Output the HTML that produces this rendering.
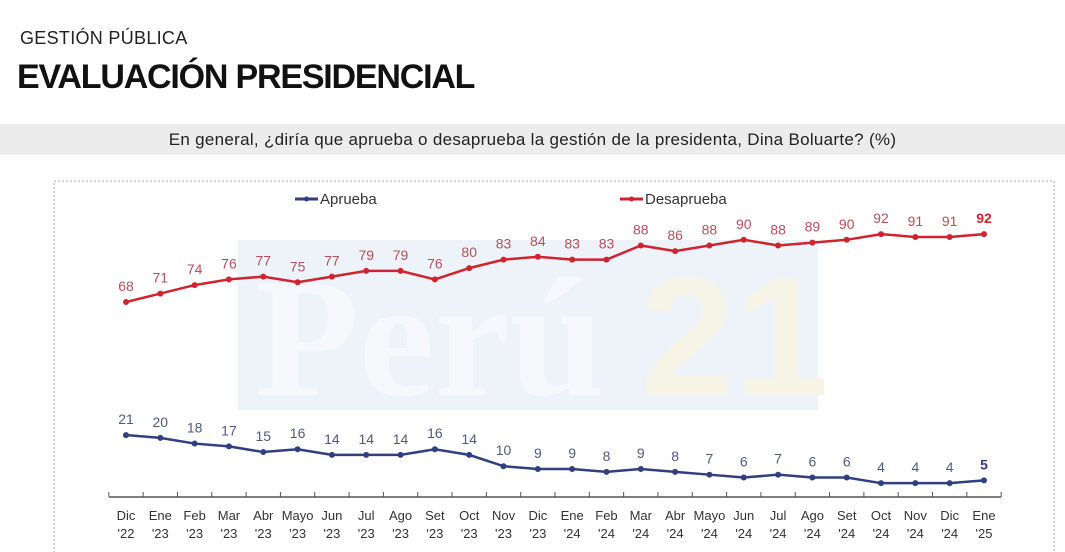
<!DOCTYPE html>
<html><head><meta charset="utf-8">
<style>
body{margin:0;width:1065px;height:552px;background:#fff;overflow:hidden;font-family:"Liberation Sans",sans-serif;position:relative}
.sup{position:absolute;left:20px;top:28px;font-size:18px;color:#222;letter-spacing:0.3px}
.title{position:absolute;left:17px;top:58px;font-size:34px;font-weight:bold;color:#111;letter-spacing:-1.2px}
.band{position:absolute;left:0;top:124px;width:1065px;height:31px;background:#ececec;text-align:center;font-size:17px;line-height:31px;color:#222;letter-spacing:0.3px}
svg{position:absolute;left:0;top:0}
</style></head><body>
<div class="sup">GESTIÓN PÚBLICA</div>
<div class="title">EVALUACIÓN PRESIDENCIAL</div>
<div class="band">En general, ¿diría que aprueba o desaprueba la gestión de la presidenta, Dina Boluarte? (%)</div>
<svg id="c" width="1065" height="552"></svg>
<script>
const months=["Dic","Ene","Feb","Mar","Abr","Mayo","Jun","Jul","Ago","Set","Oct","Nov","Dic","Ene","Feb","Mar","Abr","Mayo","Jun","Jul","Ago","Set","Oct","Nov","Dic","Ene"];
const years=["'22","'23","'23","'23","'23","'23","'23","'23","'23","'23","'23","'23","'23","'24","'24","'24","'24","'24","'24","'24","'24","'24","'24","'24","'24","'25"];
const aprueba=[21,20,18,17,15,16,14,14,14,16,14,10,9,9,8,9,8,7,6,7,6,6,4,4,4,5];
const desaprueba=[68,71,74,76,77,75,77,79,79,76,80,83,84,83,83,88,86,88,90,88,89,90,92,91,91,92];
const NS="http://www.w3.org/2000/svg";
const svg=document.getElementById('c');
function mk(t,a,p){const e=document.createElementNS(NS,t);for(const k in a)e.setAttribute(k,a[k]);(p||svg).appendChild(e);return e;}
const x0=126,x1=984,step=(x1-x0)/(months.length-1);
const xs=i=>x0+i*step;
const ys=v=>494.5-2.83*v;
let e;
e=mk('rect',{x:54,y:181,width:1000,height:380,fill:'none',stroke:'#aaa','stroke-dasharray':'2,2'});


e=mk('rect',{x:238,y:240,width:580,height:170,fill:'#eef2f9'});


e=mk('text',{x:255,y:395,'font-size':170,'font-weight':'bold','font-family':'Liberation Serif, serif',fill:'#f6f8fc'});
e.textContent='Perú';


e=mk('text',{x:640,y:395,'font-size':170,'font-weight':'bold','font-family':'Liberation Sans, sans-serif',fill:'#f5f4e6'});
e.textContent='21';


[[295,'#2f3f7f','Aprueba','legend-aprueba'],[620,'#d0232f','Desaprueba','legend-desaprueba']].forEach(l=>{
 const g=mk('g',{});
 
 
 mk('line',{x1:l[0],y1:199,x2:l[0]+23,y2:199,stroke:l[1],'stroke-width':3},g);
 mk('circle',{cx:l[0]+11.5,cy:199,r:2.5,fill:l[1]},g);
 const t=mk('text',{x:l[0]+25,y:204,'font-size':15,fill:'#333'},g);t.textContent=l[2];
});
e=mk('line',{x1:109,y1:497,x2:1001,y2:497,stroke:'#555','stroke-width':1.5});


for(let i=0;i<=months.length;i++){mk('line',{x1:xs(i)-step/2,y1:492,x2:xs(i)-step/2,y2:497,stroke:'#555'});}
months.forEach((m,i)=>{
 e=mk('text',{x:xs(i),y:520,'font-size':13,fill:'#333','text-anchor':'middle'});e.textContent=m;
 
 
 e=mk('text',{x:xs(i),y:538,'font-size':13,fill:'#333','text-anchor':'middle'});e.textContent=years[i];
 
 
});
function series(vals,col,lcol,name){
 e=mk('polyline',{points:vals.map((v,i)=>xs(i)+','+ys(v)).join(' '),fill:'none',stroke:col,'stroke-width':2.5});
 
 
 vals.forEach((v,i)=>{
  e=mk('circle',{cx:xs(i),cy:ys(v),r:3,fill:col});
  
  
  const last=i===vals.length-1;
  e=mk('text',{x:xs(i),y:ys(v)-11,'font-size':14,fill:last?col:lcol,'text-anchor':'middle','font-weight':last?'bold':'normal'});
  e.textContent=v;
  
  
 });
}
series(desaprueba,'#d0232f','#b5505a','desaprueba');
series(aprueba,'#2f3f7f','#4f5a7f','aprueba');
</script>
</body></html>
